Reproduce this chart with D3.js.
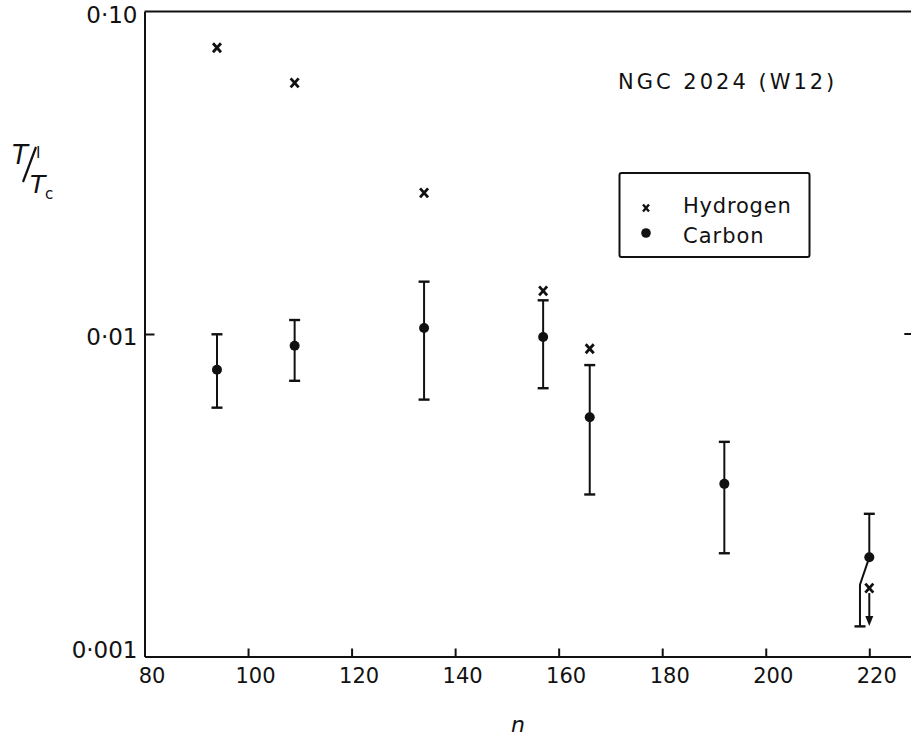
<!DOCTYPE html>
<html>
<head>
<meta charset="utf-8">
<script src="https://cdn.jsdelivr.net/npm/d3@7"></script>
<style>
  html, body { margin: 0; padding: 0; background: #fff; }
  svg { display: block; font-family: "DejaVu Sans", sans-serif; }
  .axis path, .axis line { stroke: #111; stroke-width: 2; }
  .axis text { fill: #111; font-size: 21px; font-family: "DejaVu Sans", sans-serif; }
</style>
</head>
<body>
<svg width="911" height="738"></svg>
<script>
// Hydrogen line-to-continuum ratios (last one is an upper limit)
const hydrogenN = [94, 109, 134, 157, 166, 220];
const hydrogenRatio = [0.0772, 0.0601, 0.0274, 0.0136, 0.0090, 0.00163];
const hydrogenUpperLimit = [false, false, false, false, false, true];

// Carbon ratios with error bars
const carbonN = [94, 109, 134, 157, 166, 192, 220];
const carbonRatio = [0.00775, 0.0092, 0.01044, 0.00979, 0.00552, 0.00343, 0.00203];
const carbonHigh = [0.00998, 0.01105, 0.01453, 0.01272, 0.00801, 0.00463, 0.00277];
const carbonLow = [0.00591, 0.00716, 0.00626, 0.00679, 0.00318, 0.00209, 0.00124];
// the n=220 lower bar is bent aside to clear the hydrogen arrow
const bentLow = { index: 6, n: 218.2, bend: 0.00167 };

const xTicks = [80, 100, 120, 140, 160, 180, 200, 220];
const yTicks = [0.001, 0.01, 0.1];
const yTickLabels = ["0·001", "0·01", "0·10"];

const ink = "#111";

let svg = d3.select("svg");

let x = d3.scaleLinear().domain([80, 228.5]).range([144.5, 913.3]);
let y = d3.scaleLog().domain([0.001, 0.1]).range([656.5, 11.5]);

// Frame: top and right borders
svg.append("line")
  .attr("x1", x(80)).attr("x2", x(228.5))
  .attr("y1", y(0.1)).attr("y2", y(0.1))
  .attr("stroke", ink).attr("stroke-width", 2);
svg.append("line")
  .attr("x1", x(228.5)).attr("x2", x(228.5))
  .attr("y1", y(0.1)).attr("y2", y(0.001))
  .attr("stroke", ink).attr("stroke-width", 2);
// right side tick at 0.01
svg.append("line")
  .attr("x1", x(228.5) - 9).attr("x2", x(228.5))
  .attr("y1", y(0.01)).attr("y2", y(0.01))
  .attr("stroke", ink).attr("stroke-width", 2);

// X axis
let xAxis = d3.axisBottom(x)
  .tickValues(xTicks)
  .tickFormat(d3.format("d"))
  .tickSizeInner(-8)
  .tickSizeOuter(0)
  .tickPadding(12);

let gx = svg.append("g")
  .attr("class", "axis")
  .attr("transform", `translate(0,${y(0.001)})`)
  .call(xAxis);
gx.selectAll("text").attr("dx", 7);

// Y axis
let yAxis = d3.axisLeft(y)
  .tickValues(yTicks)
  .tickFormat((d, i) => yTickLabels[i])
  .tickSizeInner(-10)
  .tickSizeOuter(0)
  .tickPadding(7);

let gy = svg.append("g")
  .attr("class", "axis")
  .attr("transform", `translate(${x(80)},0)`)
  .call(yAxis);
gy.selectAll(".tick line").filter(d => d !== 0.01).remove();
gy.selectAll("text")
  .style("font-size", "23px")
  .attr("y", d => d === 0.1 ? 4 : d === 0.001 ? -6 : 3);

// Axis titles
svg.append("text")
  .attr("x", 518).attr("y", 732)
  .attr("text-anchor", "middle")
  .attr("font-style", "italic")
  .attr("font-size", 22)
  .attr("fill", ink)
  .text("n");

let yTitle = svg.append("g").attr("fill", ink);
yTitle.append("text").attr("x", 12).attr("y", 164).attr("font-size", 26).attr("font-style", "italic").text("T");
yTitle.append("text").attr("x", 36).attr("y", 158).attr("font-size", 16).text("l");
yTitle.append("line")
  .attr("x1", 23).attr("y1", 182).attr("x2", 36).attr("y2", 147)
  .attr("stroke", ink).attr("stroke-width", 2.2);
yTitle.append("text").attr("x", 30).attr("y", 193).attr("font-size", 25).attr("font-style", "italic").text("T");
yTitle.append("text").attr("x", 45).attr("y", 199).attr("font-size", 15).text("c");

// Chart label
svg.append("text")
  .attr("x", 618).attr("y", 89)
  .attr("font-size", 21)
  .attr("letter-spacing", 3)
  .attr("fill", ink)
  .text("NGC 2024 (W12)");

// Cross marker helper
function cross(g, cx, cy, w, h, sw) {
  g.append("path")
    .attr("d", `M${cx - w / 2},${cy - h / 2}L${cx + w / 2},${cy + h / 2}M${cx + w / 2},${cy - h / 2}L${cx - w / 2},${cy + h / 2}`)
    .attr("stroke", ink)
    .attr("stroke-width", sw)
    .attr("fill", "none");
}

// Carbon error bars
let carbon = svg.append("g");
carbonN.forEach((n, i) => {
  let cx = x(n);
  let capW = 11;
  // upper bar
  carbon.append("line")
    .attr("x1", cx).attr("x2", cx)
    .attr("y1", y(carbonHigh[i])).attr("y2", y(carbonRatio[i]))
    .attr("stroke", ink).attr("stroke-width", 2);
  carbon.append("line")
    .attr("x1", cx - capW / 2).attr("x2", cx + capW / 2)
    .attr("y1", y(carbonHigh[i])).attr("y2", y(carbonHigh[i]))
    .attr("stroke", ink).attr("stroke-width", 2.4);

  let lowX = cx;
  if (i === bentLow.index) {
    lowX = x(bentLow.n);
    carbon.append("path")
      .attr("d", `M${cx},${y(carbonRatio[i])}L${lowX},${y(bentLow.bend)}L${lowX},${y(carbonLow[i])}`)
      .attr("stroke", ink).attr("stroke-width", 2).attr("fill", "none");
  } else {
    carbon.append("line")
      .attr("x1", cx).attr("x2", cx)
      .attr("y1", y(carbonRatio[i])).attr("y2", y(carbonLow[i]))
      .attr("stroke", ink).attr("stroke-width", 2);
  }
  carbon.append("line")
    .attr("x1", lowX - capW / 2).attr("x2", lowX + capW / 2)
    .attr("y1", y(carbonLow[i])).attr("y2", y(carbonLow[i]))
    .attr("stroke", ink).attr("stroke-width", 2.4);

  carbon.append("circle")
    .attr("cx", cx).attr("cy", y(carbonRatio[i]))
    .attr("r", 5)
    .attr("fill", ink);
});

// Hydrogen points
let hydrogen = svg.append("g");
hydrogenN.forEach((n, i) => {
  let cx = x(n), cy = y(hydrogenRatio[i]);
  cross(hydrogen, cx, cy, 8, 9, 2.8);
  if (hydrogenUpperLimit[i]) {
    let len = 38;
    hydrogen.append("line")
      .attr("x1", cx).attr("x2", cx)
      .attr("y1", cy + 5).attr("y2", cy + len - 8)
      .attr("stroke", ink).attr("stroke-width", 2);
    hydrogen.append("path")
      .attr("d", `M${cx - 4},${cy + len - 10}L${cx + 4},${cy + len - 10}L${cx},${cy + len}Z`)
      .attr("fill", ink);
  }
});

// Legend
let legend = svg.append("g");
legend.append("rect")
  .attr("x", 619.5).attr("y", 173)
  .attr("width", 190).attr("height", 84)
  .attr("rx", 2)
  .attr("fill", "none")
  .attr("stroke", ink)
  .attr("stroke-width", 2);
cross(legend, 646, 208, 6, 7, 2.4);
legend.append("circle").attr("cx", 646).attr("cy", 233).attr("r", 4.8).attr("fill", ink);
legend.append("text")
  .attr("x", 683).attr("y", 213)
  .attr("font-size", 21).attr("letter-spacing", 0.8)
  .attr("fill", ink)
  .text("Hydrogen");
legend.append("text")
  .attr("x", 683).attr("y", 243)
  .attr("font-size", 21).attr("letter-spacing", 1)
  .attr("fill", ink)
  .text("Carbon");
</script>
</body>
</html>
